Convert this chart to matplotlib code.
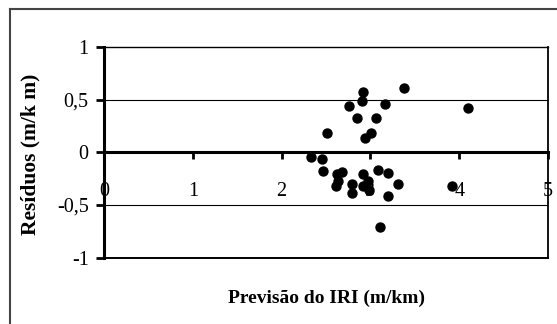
import matplotlib
matplotlib.use("Agg")
import matplotlib.pyplot as plt
from matplotlib.lines import Line2D

# Data
previsao = [3.38, 2.92, 2.90, 2.76, 3.16, 2.85, 3.06, 2.51, 3.01, 2.94, 4.10,
            2.33, 2.45, 2.47, 2.62, 2.68, 2.64, 2.61, 2.79, 2.79, 2.92, 2.92,
            2.97, 2.98, 3.08, 3.20, 3.31, 3.20, 3.11, 3.92]
residuos = [0.61, 0.57, 0.49, 0.44, 0.46, 0.33, 0.33, 0.18, 0.18, 0.14, 0.42,
            -0.04, -0.06, -0.18, -0.21, -0.19, -0.27, -0.32, -0.30, -0.39, -0.21, -0.32,
            -0.27, -0.36, -0.17, -0.20, -0.30, -0.41, -0.71, -0.32]
xticks = [0, 1, 2, 3, 4, 5]
yticks = [-1, -0.5, 0, 0.5, 1]
ytick_labels = ["-1", "-0,5", "0", "0,5", "1"]

W, H = 557, 324
fig = plt.figure(figsize=(W / 100, H / 100), dpi=100)
fig.patch.set_facecolor("white")
plt.rcParams['font.family'] = ['Liberation Serif', 'DejaVu Serif']

# outer border
fig.add_artist(Line2D([10 / W, 10 / W], [0, 1 - 9 / H], transform=fig.transFigure,
                      color="#444444", lw=1.5))
fig.add_artist(Line2D([10 / W, 1], [1 - 9 / H, 1 - 9 / H], transform=fig.transFigure,
                      color="#444444", lw=1.5))

ax = fig.add_axes([104 / W, (H - 257.7) / H, (548 - 104) / W, (257.7 - 47) / H])
ax.set_xlim(0, 5)
ax.set_ylim(-1, 1)

ax.scatter(previsao, residuos, s=42, color="black", zorder=5, clip_on=False)

for yv in [-0.5, 0.5]:
    ax.axhline(yv, color="black", lw=0.8, zorder=1)
ax.axhline(-1, color="black", lw=1.4, zorder=2, clip_on=False)

ax.spines['bottom'].set_position(('data', 0))
ax.spines['bottom'].set_linewidth(2.2)
ax.spines['left'].set_linewidth(2.2)
ax.spines['top'].set_linewidth(1.0)
ax.spines['right'].set_linewidth(1.3)

ax.set_xticks(xticks)
ax.set_xticklabels([str(v) for v in xticks])
ax.set_yticks(yticks)
ax.set_yticklabels(ytick_labels)
ax.tick_params(axis='x', direction='out', length=5, width=2, pad=16, labelsize=14.5)
ax.tick_params(axis='y', direction='out', length=6, width=2, pad=5, labelsize=14.5)

fig.text(326 / W, 1 - 298 / H, "Previsão do IRI (m/km)", ha="center", va="center",
         fontsize=14, fontweight="bold")
fig.text(30 / W, 1 - 154 / H, "Resíduos (m/k m)", ha="center", va="center",
         rotation=90, fontsize=15.5, fontweight="bold")

fig.savefig("out.png", dpi=100)
